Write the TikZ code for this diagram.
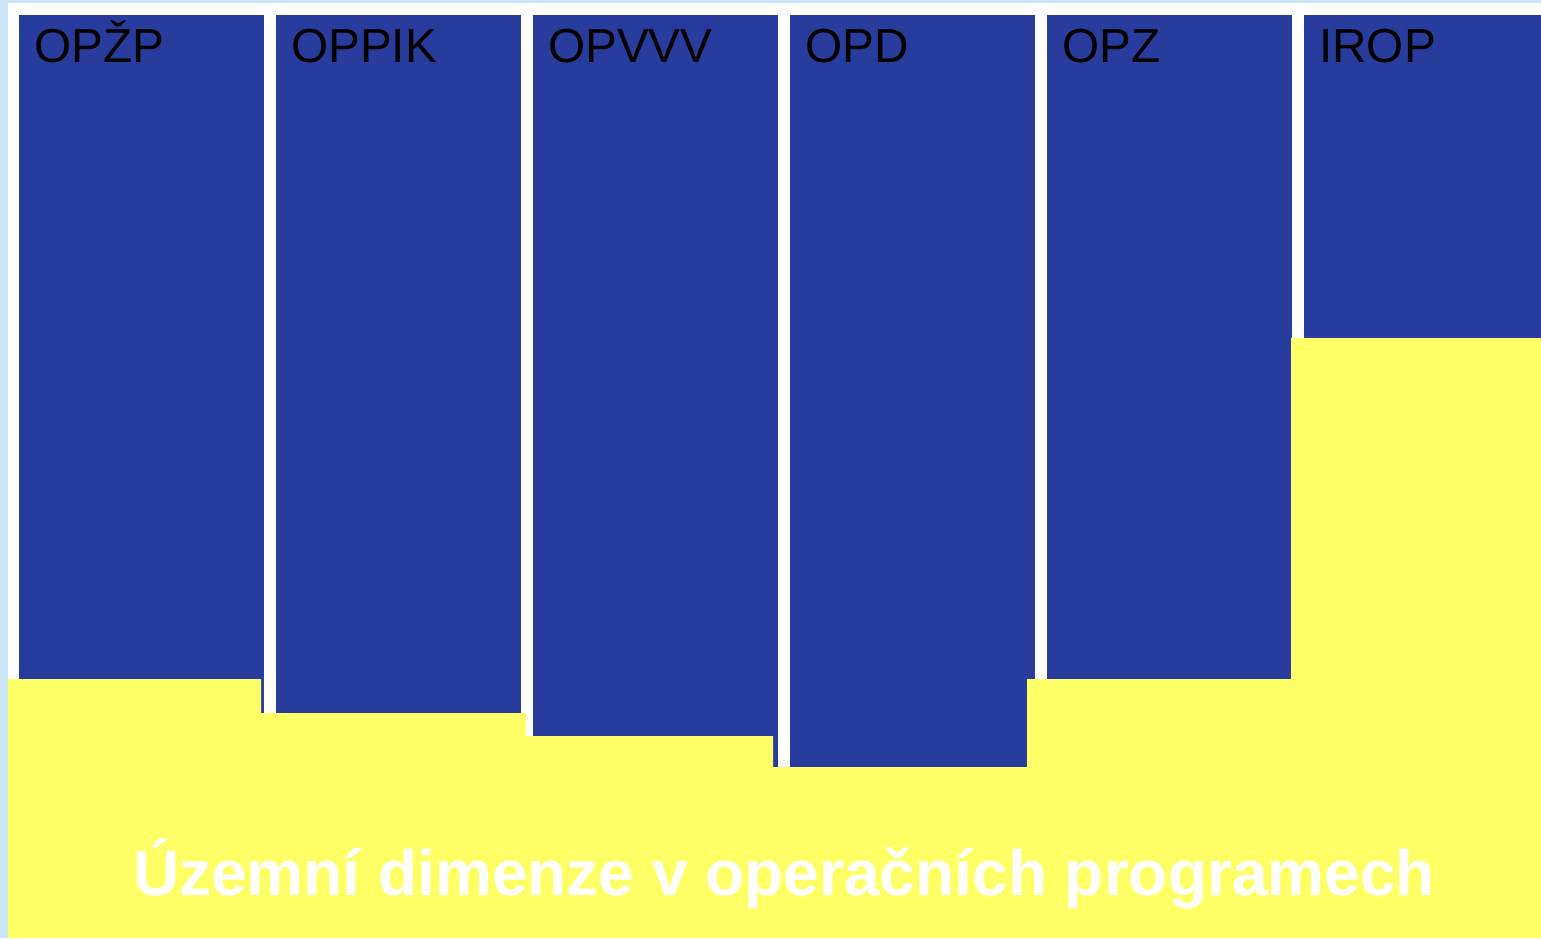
\documentclass[tikz,border=0pt]{standalone}
\usepackage{fontspec}
\setmainfont{Liberation Sans}
\definecolor{bgblue}{HTML}{CCE4F7}
\definecolor{colblue}{HTML}{273C9C}
\definecolor{yel}{HTML}{FFFF66}
\begin{document}
\begin{tikzpicture}[x=1pt,y=-1pt,
  colbox/.style={fill=colblue,draw=none},
  collabel/.style={anchor=base west,inner sep=0pt,text=black,font=\fontsize{47.7}{50}\selectfont},
  titletext/.style={text=white,font=\bfseries\fontsize{64}{68}\selectfont,inner sep=0pt}]
\useasboundingbox (0,0) rectangle (1541,938);
\fill[bgblue] (0,0) rectangle (1541,938);
\fill[white] (8,3) rectangle (1541,938);
% columns
\fill[colbox] (19,15) rectangle (264,767);
\fill[colbox] (276,15) rectangle (521,767);
\fill[colbox] (533,15) rectangle (778,767);
\fill[colbox] (790,15) rectangle (1035,767);
\fill[colbox] (1047,15) rectangle (1292,767);
\fill[colbox] (1304,15) rectangle (1541,767);
% yellow stepped area
\fill[yel] (8,679) -- (261,679) -- (261,713) -- (526,713) -- (526,736) -- (773,736) -- (773,767)
  -- (1027,767) -- (1027,679) -- (1291,679) -- (1291,338) -- (1541,338) -- (1541,938) -- (8,938) -- cycle;
% labels
\node[collabel] (l1) at (34,62) {OPŽP};
\node[collabel] (l2) at (291,62) {OPPIK};
\node[collabel] (l3) at (548,62) {OPVVV};
\node[collabel] (l4) at (805,62) {OPD};
\node[collabel] (l5) at (1062,62) {OPZ};
\node[collabel] (l6) at (1319,62) {IROP};
\node[titletext,anchor=base] (title) at (784,895) {Územní dimenze v operačních programech};
\end{tikzpicture}
\end{document}
